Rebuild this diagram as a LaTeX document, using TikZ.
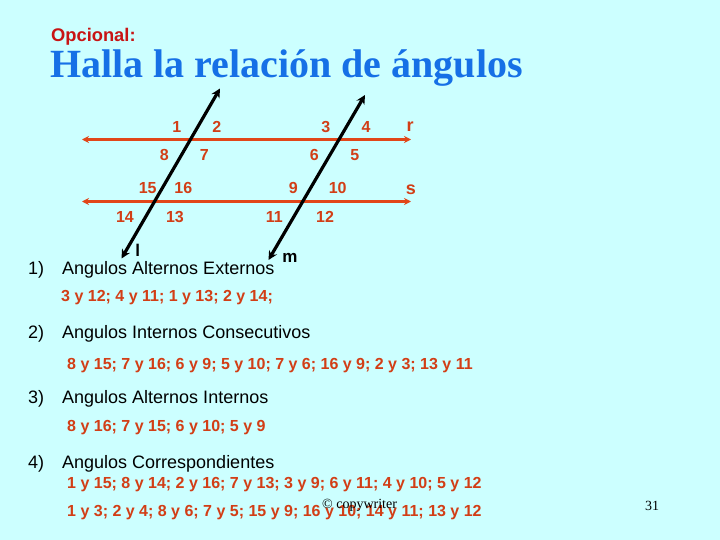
\documentclass[tikz,border=0pt]{standalone}
\usepackage{fontspec}
\setmainfont{Liberation Serif}
\newfontfamily\arialf{Liberation Sans}
\usetikzlibrary{arrows.meta}
\definecolor{bgc}{RGB}{204,255,255}
\definecolor{ttlblue}{RGB}{22,112,230}
\definecolor{optred}{RGB}{200,20,20}
\definecolor{numred}{RGB}{210,62,22}
\definecolor{linered}{RGB}{225,70,25}
\tikzset{
  numbase/.style={font=\arialf\bfseries\fontsize{16}{18}\selectfont, text=numred, inner sep=0pt},
  num/.style={numbase, text height=11.5pt, text depth=0pt},
  lname/.style={font=\arialf\bfseries\fontsize{17}{19}\selectfont, text=black, inner sep=0pt},
  item/.style={font=\arialf\fontsize{18}{20}\selectfont, anchor=base west, inner sep=0pt},
  pairs/.style={font=\arialf\bfseries\fontsize{16}{18}\selectfont, text=numred, anchor=base west, inner sep=0pt},
  parline/.style={draw=linered, line width=2.6pt, {Stealth[length=7pt,width=7pt]}-{Stealth[length=7pt,width=7pt]}},
  transline/.style={draw=black, line width=3.2pt, {Stealth[length=9pt,width=9pt]}-{Stealth[length=9pt,width=9pt]}},
}
\begin{document}
\begin{tikzpicture}[x=1pt,y=-1pt]
\fill[bgc] (0,0) rectangle (720,540);
\useasboundingbox (0,0) rectangle (720,540);
% titles
\node[anchor=base west, inner sep=0pt, text=optred, font=\arialf\bfseries\fontsize{18.3}{20}\selectfont] (opc) at (51,42) {Opcional:};
\node[anchor=base west, inner sep=0pt, text=ttlblue, font=\bfseries\fontsize{40}{44}\selectfont] (ttl) at (50,78) {Halla la relación de ángulos};
% lines
\coordinate (rA) at (82,139.5);
\coordinate (rB) at (411,139.5);
\coordinate (sA) at (82,201.5);
\coordinate (sB) at (411,201.5);
\coordinate (lA) at (121.5,258.5);
\coordinate (lB) at (220,88.5);
\coordinate (mA) at (268.5,260);
\coordinate (mB) at (365,95);
\draw[parline] (rA) -- (rB);
\draw[parline] (sA) -- (sB);
\draw[transline] (lA) -- (lB);
\draw[transline] (mA) -- (mB);
% angle numbers
\node[num] (n1) at (176.7,126.5) {1};
\node[num] (n2) at (216.7,126.5) {2};
\node[num] (n3) at (325.7,126.5) {3};
\node[num] (n4) at (366,126.5) {4};
\node[numbase, font=\arialf\bfseries\fontsize{18}{20}\selectfont] (nr) at (410,127) {r};
\node[num] (n8) at (164.3,155) {8};
\node[num] (n7) at (204.3,155) {7};
\node[num] (n6) at (314.3,155) {6};
\node[num] (n5) at (354.7,155) {5};
\node[num] (n15) at (147.7,187.5) {15};
\node[num] (n16) at (183.3,187.5) {16};
\node[num] (n9) at (293.3,187.5) {9};
\node[num] (n10) at (337.7,187.5) {10};
\node[numbase, font=\arialf\bfseries\fontsize{18}{20}\selectfont] (ns) at (411,189.5) {s};
\node[num] (n14) at (125,216.5) {14};
\node[num] (n13) at (175,216.5) {13};
\node[num] (n11) at (274.3,216.5) {11};
\node[num] (n12) at (325,216.5) {12};
\node[lname] (ll) at (137.7,250) {l};
\node[lname] (lm) at (290,258) {m};
% items
\node[item] (i1) at (28,274) {1)};
\node[item] (t1) at (62,274) {Angulos Alternos Externos};
\node[pairs] (p1) at (61,301.5) {3 y 12; 4 y 11; 1 y 13; 2 y 14;};
\node[item] (i2) at (28,338.5) {2)};
\node[item] (t2) at (62,338.5) {Angulos Internos Consecutivos};
\node[pairs] (p2) at (67,369) {8 y 15; 7 y 16; 6 y 9; 5 y 10; 7 y 6; 16 y 9; 2 y 3; 13 y 11};
\node[item] (i3) at (28,403.5) {3)};
\node[item] (t3) at (62,403.5) {Angulos Alternos Internos};
\node[pairs] (p3) at (67,431) {8 y 16; 7 y 15; 6 y 10; 5 y 9};
\node[item] (i4) at (28,468.5) {4)};
\node[item] (t4) at (62,468.5) {Angulos Correspondientes};
\node[pairs] (p4) at (67,488) {1 y 15; 8 y 14; 2 y 16; 7 y 13; 3 y 9; 6 y 11; 4 y 10; 5 y 12};
\node[pairs] (p5) at (67,516) {1 y 3; 2 y 4; 8 y 6; 7 y 5; 15 y 9; 16 y 10; 14 y 11; 13 y 12};
\node[anchor=base west, inner sep=0pt, font=\fontsize{14}{16}\selectfont] (cw) at (322,508) {© copywriter};
\node[anchor=base west, inner sep=0pt, font=\fontsize{14}{16}\selectfont] (pg) at (645,510) {31};
\end{tikzpicture}
\end{document}
